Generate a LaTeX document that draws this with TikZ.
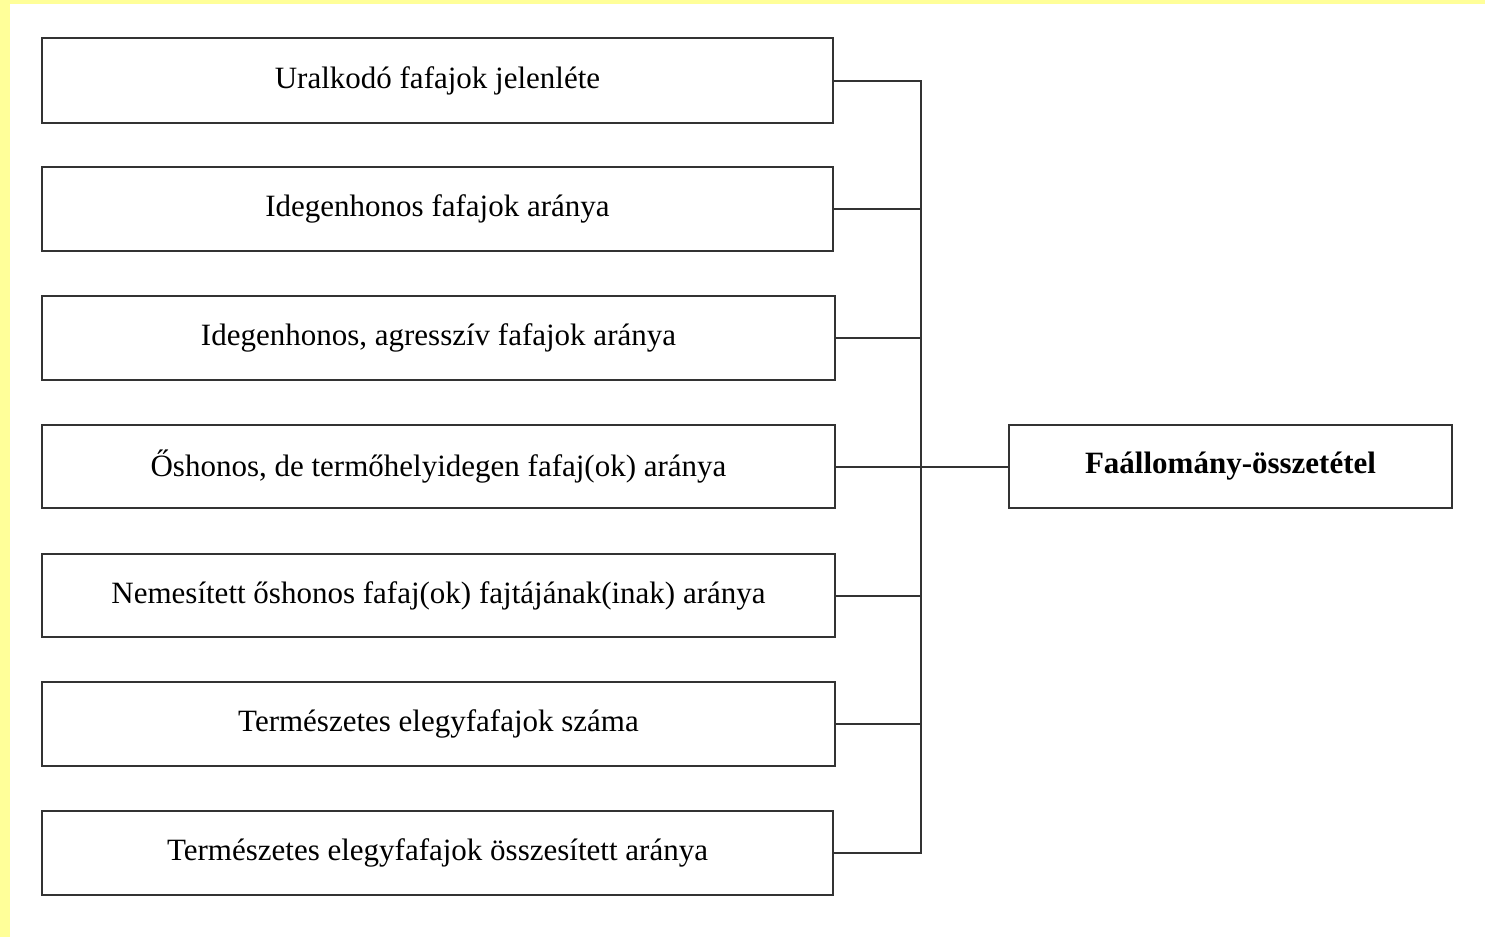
\documentclass[tikz,border=0pt]{standalone}
\usepackage{fontspec}
\setmainfont{Liberation Serif}
\definecolor{bgyellow}{HTML}{FFFF99}
\definecolor{linegray}{HTML}{333333}
\tikzset{
  itembox/.style={draw=linegray, line width=2pt, fill=white, inner sep=0pt,
    font=\fontsize{31}{37}\selectfont},
  mainbox/.style={itembox, font=\fontsize{31}{37}\selectfont\bfseries},
  link/.style={draw=linegray, line width=2pt}
}
\begin{document}
\begin{tikzpicture}[x=1pt,y=-1pt]
\fill[bgyellow] (0,0) rectangle (1485,937);
\fill[white] (10,4) rectangle (1485,937);
\useasboundingbox (0,0) rectangle (1485,937);
\node[itembox, minimum width=791pt, minimum height=85pt] (b1) at (437.5,80.5) {Uralkodó fafajok jelenléte};
\node[itembox, minimum width=791pt, minimum height=84pt] (b2) at (437.5,209) {Idegenhonos fafajok aránya};
\node[itembox, minimum width=793pt, minimum height=84pt] (b3) at (438.5,338) {Idegenhonos, agresszív fafajok aránya};
\node[itembox, minimum width=793pt, minimum height=83pt] (b4) at (438.5,466.5) {Őshonos, de termőhelyidegen fafaj(ok) aránya};
\node[itembox, minimum width=793pt, minimum height=83pt] (b5) at (438.5,595.5) {Nemesített őshonos fafaj(ok) fajtájának(inak) aránya};
\node[itembox, minimum width=793pt, minimum height=84pt] (b6) at (438.5,724) {Természetes elegyfafajok száma};
\node[itembox, minimum width=791pt, minimum height=84pt] (b7) at (437.5,853) {Természetes elegyfafajok összesített aránya};
\node[mainbox, minimum width=443pt, minimum height=83pt] (main) at (1230.5,466.5) {Faállomány-összetétel};
\coordinate (spine) at (921,0);
\draw[link] (b1.east) -- (b1.east -| spine) -- (b7.east -| spine) -- (b7.east);
\foreach \b in {b2,b3,b4,b5,b6}{
  \draw[link] (\b.east) -- (\b.east -| spine);
}
\draw[link] (b4.east -| spine) -- (main.west);
\end{tikzpicture}
\end{document}
